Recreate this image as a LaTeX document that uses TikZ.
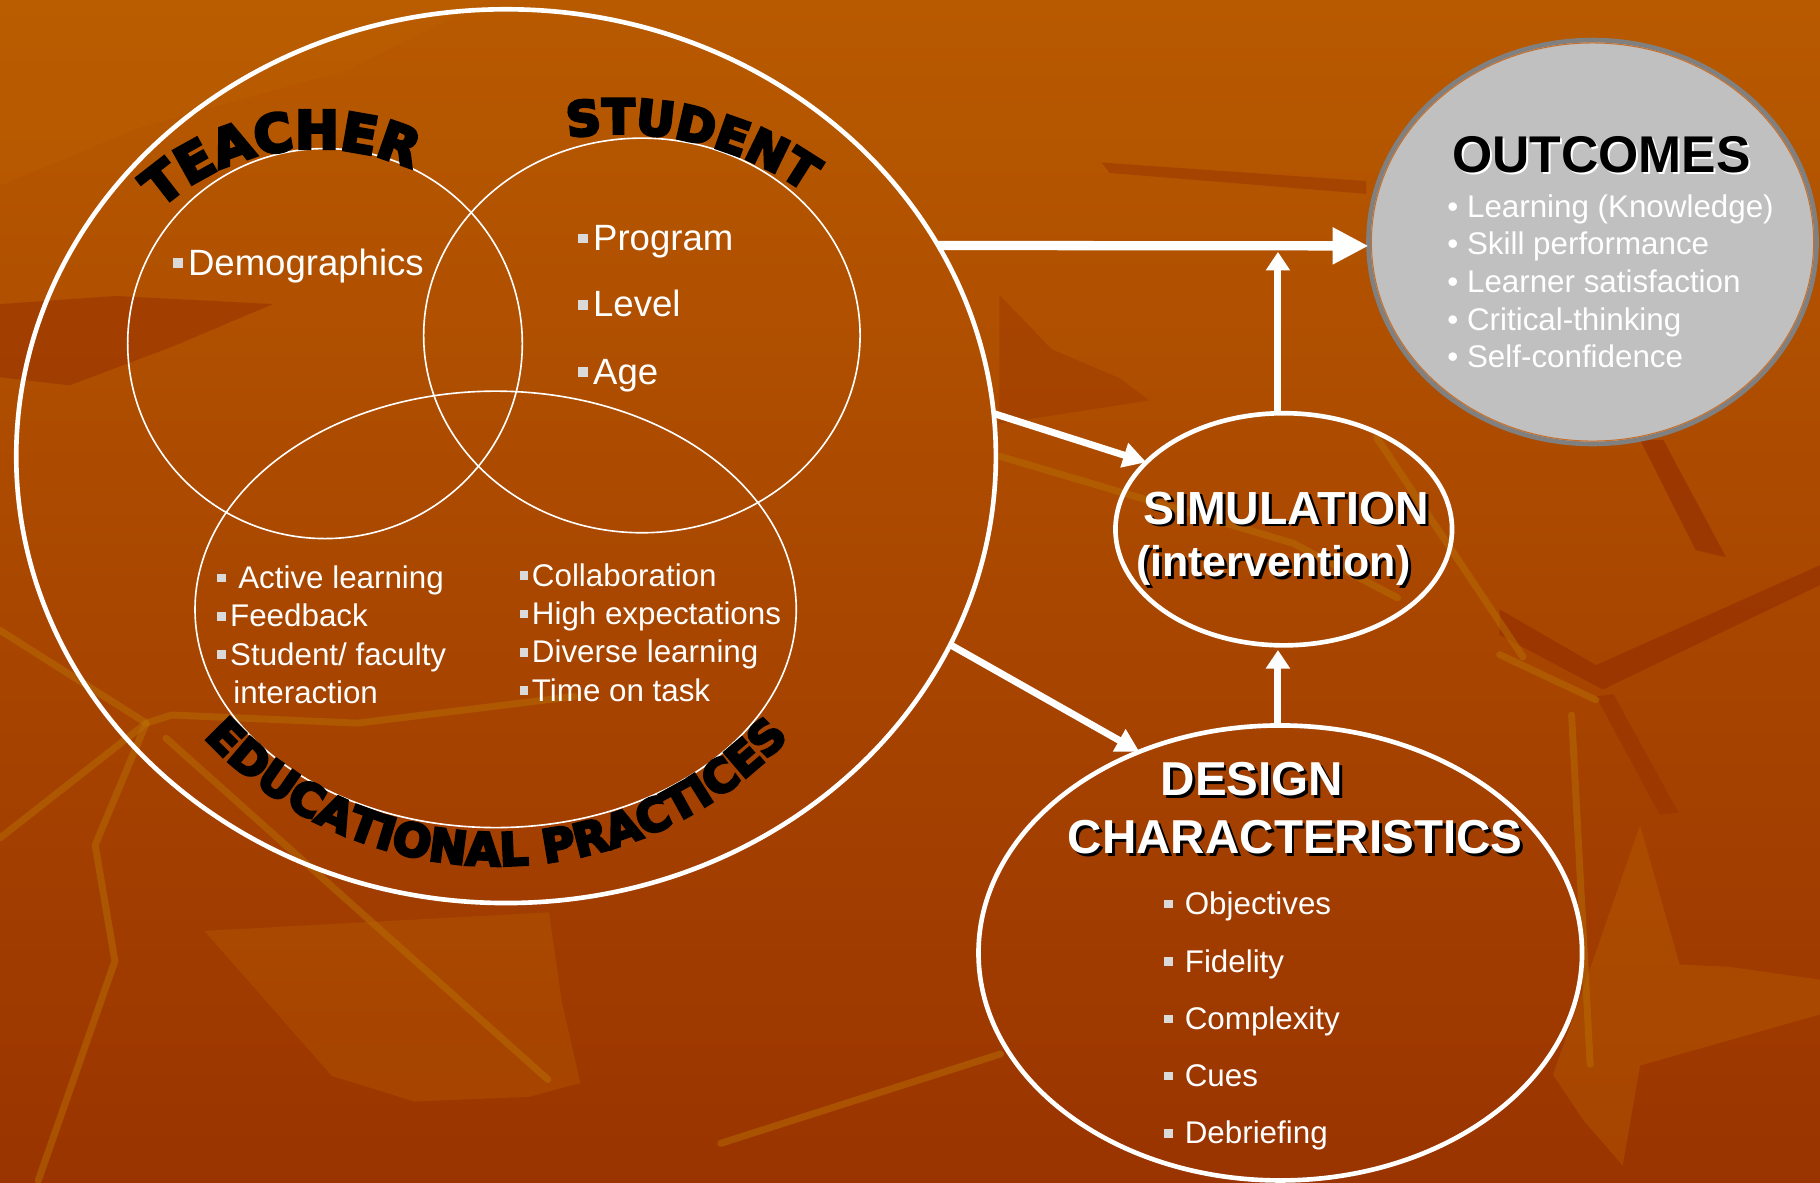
\documentclass[tikz,border=0pt]{standalone}
\usepackage{fontspec}
\setmainfont{Liberation Sans}
\newfontfamily\heavy[FakeBold=6]{DejaVu Sans Bold}
\usetikzlibrary{shapes.geometric,arrows.meta,decorations.text}
\definecolor{bgtop}{HTML}{B85A00}
\definecolor{bgmid}{HTML}{A84600}
\definecolor{bgbot}{HTML}{9A3400}
\definecolor{leafdark}{HTML}{983300}
\definecolor{leaflight}{HTML}{BE6400}
\definecolor{vein}{HTML}{B86E05}
\definecolor{bulc}{HTML}{DADADA}
\definecolor{outfill}{HTML}{C0C0C0}
\definecolor{outline}{HTML}{808080}
\definecolor{outinner}{HTML}{C8702A}
\newcommand\sqbul{\textcolor{bulc}{\rule[0.2em]{0.27em}{0.27em}}}
\tikzset{
  ring/.style={ellipse, draw=white, inner sep=0pt, outer sep=0pt},
  venn/.style={ring, line width=1.4pt},
  item/.style={anchor=base west, inner sep=0pt, outer sep=0pt, text=white, font=\fontsize{27}{27}\selectfont},
  bigitem/.style={item, font=\fontsize{31.5}{31.5}\selectfont},
  ttl/.style={inner sep=0pt, outer sep=0pt, text=white, font=\fontsize{40}{40}\selectfont\bfseries},
  ttlshadow/.style={ttl, text=black},
  conn/.style={draw=white, line width=6pt, -{Triangle[length=20pt,width=21pt]}},
  bigconn/.style={draw=white, line width=8pt, -{Triangle[length=31pt,width=30pt]}},
  vein/.style={draw=vein, line width=6pt, opacity=.5, line join=round, line cap=round},
}
\begin{document}
\begin{tikzpicture}[x=1pt,y=-1pt]
\useasboundingbox (0,0) rectangle (1568,1019);
% ---------- background ----------
\shade[top color=bgtop, middle color=bgmid, bottom color=bgbot] (0,0) rectangle (1568,1019);
\fill[leafdark, opacity=.6] (0,262) -- (100,255) -- (235,262) -- (150,298) -- (60,332) -- (0,325) -- cycle;
\fill[leafdark, opacity=.5] (949,140) -- (1177,156) -- (1177,167) -- (956,149) -- cycle;
\fill[leafdark, opacity=.4] (861,254) -- (906,301) -- (965,326) -- (990,345) -- (861,365) -- cycle;
\fill[leafdark, opacity=.8] (1413,379) -- (1433,379) -- (1487,480) -- (1461,474) -- cycle;
\fill[leafdark, opacity=.8] (1292,525) -- (1375,573) -- (1568,487) -- (1568,504) -- (1381,594) -- (1292,547) -- cycle;
\fill[leafdark, opacity=.6] (1375,600) -- (1390,598) -- (1446,700) -- (1430,702) -- cycle;
\fill[leaflight, opacity=.3] (176,802) -- (286,927) -- (357,949) -- (456,945) -- (500,933) -- (484,863) -- (473,786) -- cycle;
\fill[leaflight, opacity=.35] (1413,711) -- (1447,831) -- (1490,833) -- (1568,844) -- (1568,874) -- (1413,918) -- (1398,1004) -- (1364,965) -- (1338,926) -- cycle;
\fill[leaflight, opacity=.3] (0,0) -- (420,0) -- (300,60) -- (120,110) -- (0,160) -- cycle;
\draw[vein] (0,722) -- (126,623) -- (148,616) -- (308,623) -- (495,600);
\draw[vein] (0,543) -- (126,623);
\draw[vein] (126,623) -- (82,728) -- (99,828) -- (33,1017);
\draw[vein] (143,636) -- (472,930);
\draw[vein] (621,985) -- (862,908);
\draw[vein] (861,393) -- (1114,468) -- (1204,515);
\draw[vein] (1186,377) -- (1312,566);
\draw[vein] (1292,564) -- (1375,603);
\draw[vein] (1354,616) -- (1370,917);
% ---------- context circle and Venn ----------
\node[ring, line width=4pt, minimum width=844pt, minimum height=770pt] (ctx) at (436,393) {};
\node[venn, minimum width=340pt, minimum height=336pt] (teach) at (280,296) {};
\node[venn, minimum width=376pt, minimum height=340pt] (stud) at (553,289) {};
\node[venn, minimum width=518pt, minimum height=376pt] (edu) at (427,525) {};
% curved headings
\path[decorate, decoration={text along path, text color=black, text align=center,
  text={|\heavy\fontsize{45}{45}\selectfont|TEACHER}}]
  (272.5,328) ++(-141:200) arc[start angle=-141, end angle=-57, radius=200];
\path[decorate, decoration={text along path, text color=black, text align=center,
  text={|\heavy\fontsize{41}{41}\selectfont|STUDENT}}]
  (534,392) ++(-117:277) arc[start angle=-117, end angle=-37, radius=277];
\path[decorate, decoration={text along path, text color=black, text align=center,
  text={|\heavy\fontsize{39}{39}\selectfont|EDUCATIONAL PRACTICES}}]
  (427.7,403.7) ++(160:342) arc[start angle=160, end angle=20, radius=342];
% items
\node[bigitem] (dem) at (149,237) {\sqbul\hspace{4.5pt}Demographics};
\node[bigitem] (prog) at (498,216) {\sqbul\hspace{4.5pt}Program};
\node[bigitem] (lev) at (498,273) {\sqbul\hspace{4.5pt}Level};
\node[bigitem] (age) at (498,331) {\sqbul\hspace{4.5pt}Age};
\node[item] (act) at (187,507) {\sqbul\hspace{11pt}Active learning};
\node[item] (feed) at (187,540) {\sqbul\hspace{4pt}Feedback};
\node[item] (sfi) at (187,573) {\sqbul\hspace{4pt}Student/ faculty};
\node[item] (inter) at (201,606) {interaction};
\node[item] (coll) at (448,505) {\sqbul\hspace{3pt}Collaboration};
\node[item] (high) at (448,538) {\sqbul\hspace{3pt}High expectations};
\node[item] (div) at (448,571) {\sqbul\hspace{3pt}Diverse learning};
\node[item] (time) at (448,604) {\sqbul\hspace{3pt}Time on task};
% ---------- right side ----------
\node[ring, line width=4pt, minimum width=290pt, minimum height=200pt] (sim) at (1106,456) {};
\node[ring, line width=4pt, minimum width=520pt, minimum height=392pt] (des) at (1103,821) {};
\node[ellipse, fill=outfill, draw=outline, line width=4pt, inner sep=0pt, outer sep=0pt,
      minimum width=386pt, minimum height=348pt] (out) at (1372,208.5) {};
\draw[outinner, line width=0.9pt] (out.center) ellipse [x radius=190.5, y radius=171.5];
% arrows
\coordinate (j) at (1101,217);
\coordinate (k) at (1101,560);
\draw[bigconn] (ctx.26.8) -- (out.181);
\draw[conn, -{Triangle[length=16pt,width=20pt]}] (j |- sim.north) -- (j);
\draw[conn] (ctx.5) -- (sim.154);
\draw[conn] (ctx.-23) -- (des.125);
\draw[conn, -{Triangle[length=16pt,width=20pt]}] (k |- des.north) -- (k);
% titles
\node[ttlshadow, anchor=base] (simS) at (1110.5,454) {SIMULATION};
\node[ttl, anchor=base] (simT) at (1108,451.5) {SIMULATION};
\node[ttlshadow, anchor=base, font=\fontsize{37}{37}\selectfont\bfseries] (intS) at (1099.5,499.5) {(intervention)};
\node[ttl, anchor=base, font=\fontsize{37}{37}\selectfont\bfseries] (intT) at (1097,497) {(intervention)};
\node[ttlshadow, anchor=base west, font=\fontsize{41}{41}\selectfont\bfseries] (desS) at (1002.5,688) {DESIGN};
\node[ttl, anchor=base west, font=\fontsize{41}{41}\selectfont\bfseries] (desT) at (1000,685.5) {DESIGN};
\node[ttlshadow, anchor=base west, font=\fontsize{41}{41}\selectfont\bfseries] (chS) at (922.5,737.5) {CHARACTERISTICS};
\node[ttl, anchor=base west, font=\fontsize{41}{41}\selectfont\bfseries] (chT) at (920,735) {CHARACTERISTICS};
\node[ttl, anchor=base, font=\fontsize{44.5}{44.5}\selectfont\bfseries] (outS) at (1381.5,150.5) {OUTCOMES};
\node[ttlshadow, anchor=base, font=\fontsize{44.5}{44.5}\selectfont\bfseries] (outT) at (1379.5,148.5) {OUTCOMES};
\node[item] (o1) at (1247,187) {• Learning (Knowledge)};
\node[item] (o2) at (1247,219.5) {• Skill performance};
\node[item] (o3) at (1247,252) {• Learner satisfaction};
\node[item] (o4) at (1247,284.5) {• Critical-thinking};
\node[item] (o5) at (1247,317) {• Self-confidence};
\node[item] (d1) at (1003,788) {\sqbul\hspace{10.5pt}Objectives};
\node[item] (d2) at (1003,837.5) {\sqbul\hspace{10.5pt}Fidelity};
\node[item] (d3) at (1003,887) {\sqbul\hspace{10.5pt}Complexity};
\node[item] (d4) at (1003,936) {\sqbul\hspace{10.5pt}Cues};
\node[item] (d5) at (1003,985.5) {\sqbul\hspace{10.5pt}Debriefing};
\end{tikzpicture}
\end{document}
